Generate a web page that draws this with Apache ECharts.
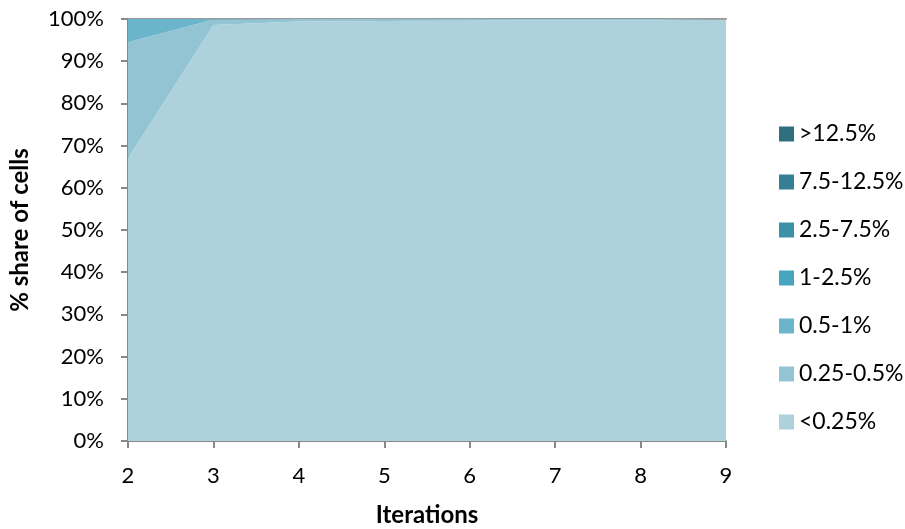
<!DOCTYPE html>
<html><head><meta charset="utf-8">
<script src="https://cdn.jsdelivr.net/npm/echarts@6/dist/echarts.min.js"></script>
<style>html,body{margin:0;padding:0;background:#fff}#c{width:905px;height:529px}</style>
</head><body><div id="c"></div>
<script>
const categories = ['2','3','4','5','6','7','8','9'];
const seriesNames = ['<0.25%','0.25-0.5%','0.5-1%','1-2.5%','2.5-7.5%','7.5-12.5%','>12.5%'];
const s_lt025 = [67, 98.6, 99.4, 99.5, 99.6, 99.7, 99.7, 99.8];
const s_025_05 = [27.5, 1.3, 0.6, 0.5, 0.4, 0.3, 0.3, 0.2];
const s_05_1 = [5.5, 0.1, 0, 0, 0, 0, 0, 0];
const s_1_25 = [0, 0, 0, 0, 0, 0, 0, 0];
const s_25_75 = [0, 0, 0, 0, 0, 0, 0, 0];
const s_75_125 = [0, 0, 0, 0, 0, 0, 0, 0];
const s_gt125 = [0, 0, 0, 0, 0, 0, 0, 0];
const yTicks = [0,10,20,30,40,50,60,70,80,90,100];
const colors = ['#AED2DC','#93C4D4','#6AB5CA','#47A5BF','#3C90A7','#357F94','#2F6F80'];
const allData = [s_lt025, s_025_05, s_05_1, s_1_25, s_25_75, s_75_125, s_gt125];
const FONT = 'Lato';
const chart = echarts.init(document.getElementById('c'));
chart.setOption({
  animation: false,
  textStyle: {fontFamily: FONT},
  grid: {left: 128, right: 179, top: 19, bottom: 88, containLabel: false, outerBoundsMode: 'none'},
  legend: {
    orient: 'vertical', left: 774, top: 117, itemWidth: 15, itemHeight: 15, itemGap: 24,
    data: seriesNames.slice().reverse(),
    textStyle: {fontSize: 23, lineHeight: 24, color: '#000', fontFamily: FONT},
    icon: 'rect'
  },
  xAxis: [{
    type: 'category', data: categories, boundaryGap: false,
    name: 'Iterations', nameLocation: 'middle', nameGap: 62,
    nameTextStyle: {fontSize: 24, fontWeight: 'bold', color: '#000', fontFamily: FONT},
    axisLine: {lineStyle: {color: '#888', width: 2}},
    axisTick: {show: true, inside: false, length: 7, lineStyle: {color: '#888', width: 2}},
    axisLabel: {fontSize: 22, color: '#000', margin: 24, fontFamily: FONT},
    splitLine: {show: false}
  },{
    type: 'category', data: categories, boundaryGap: false, position: 'top',
    axisLine: {show: true, lineStyle: {color: '#999', width: 2}},
    axisTick: {show: false}, axisLabel: {show: false}
  }],
  yAxis: {
    type: 'value', min: 0, max: 100, interval: 10,
    name: '% share of cells', nameLocation: 'middle', nameGap: 96,
    nameTextStyle: {fontSize: 24, fontWeight: 'bold', color: '#000', fontFamily: FONT},
    axisLine: {show: true, lineStyle: {color: '#888', width: 2}},
    axisTick: {show: true, length: 7, lineStyle: {color: '#888', width: 2}},
    axisLabel: {fontSize: 22, color: '#000', margin: 24, fontFamily: FONT,
      formatter: v => yTicks.includes(v) ? v + '%' : ''},
    splitLine: {show: false}
  },
  series: seriesNames.map((n, i) => ({
    name: n, type: 'line', stack: 'total', data: allData[i],
    symbol: 'none', lineStyle: {width: 0}, itemStyle: {color: colors[i]},
    areaStyle: {color: colors[i], opacity: 1}, z: 2
  }))
});
</script></body></html>
